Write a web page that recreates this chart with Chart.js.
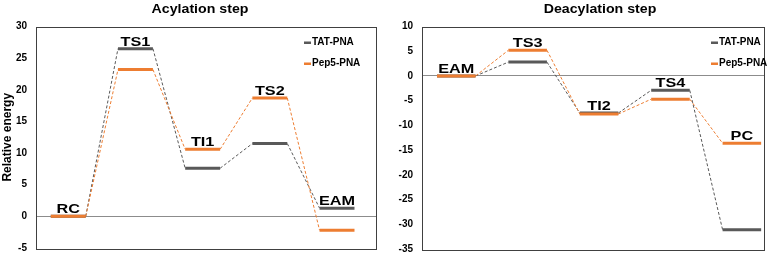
<!DOCTYPE html>
<html>
<head>
<meta charset="utf-8">
<script src="https://cdn.jsdelivr.net/npm/chart.js@4.4.1/dist/chart.umd.min.js"></script>
<style>
  html, body { margin: 0; padding: 0; background: #fff; overflow: hidden; }
  #wrap { position: relative; width: 778px; height: 254px; overflow: hidden; }
  .box { position: absolute; top: 0; }
</style>
</head>
<body>
<div id="wrap">
  <div class="box" style="left:0;width:388px;height:263px"><canvas id="acyl-chart"></canvas></div>
  <div class="box" style="left:388px;width:390px;height:264px"><canvas id="deacyl-chart"></canvas></div>
</div>
<script>
// acylation step
var acylSteps = ['RC', 'TS1', 'TI1', 'TS2', 'EAM'];
var acylTat = [0, 26.5, 7.6, 11.5, 1.3];
var acylPep5 = [0, 23.2, 10.6, 18.7, -2.2];
var acylTicks = [30, 25, 20, 15, 10, 5, 0, -5];

// deacylation step
var deacylSteps = ['EAM', 'TS3', 'TI2', 'TS4', 'PC'];
var deacylTat = [0, 2.8, -7.5, -2.9, -31.1];
var deacylPep5 = [0, 5.2, -7.7, -4.7, -13.6];
var deacylTicks = [10, 5, 0, -5, -10, -15, -20, -25, -30, -35];

var seriesNames = ['TAT-PNA', 'Pep5-PNA'];
var tatColor = '#595959';
var pepColor = '#ed7d31';

var FONT = 'Arial, "Liberation Sans", sans-serif';
Chart.defaults.font.family = FONT;
Chart.defaults.color = '#000';

// turn energies into start/end points of each level line
function toLevels(values, cfg) {
    var pts = [];
    values.forEach(function(v, i) {
        var x0 = i * cfg.step + cfg.offset;
        pts.push({x: x0, y: v});
        pts.push({x: x0 + cfg.width, y: v});
    });
    return pts;
}

function makeDataset(label, values, color, order, cfg) {
    return {
        label: label,
        data: toLevels(values, cfg),
        borderColor: color,
        borderWidth: 3,
        pointRadius: 0,
        fill: false,
        tension: 0,
        order: order,
        segment: {
            // even segment = level line, odd = dashed connector
            borderWidth: function(ctx) { return ctx.p0DataIndex % 2 === 0 ? 3 : 1; },
            borderDash: function(ctx) { return ctx.p0DataIndex % 2 === 0 ? [] : [3, 2]; }
        }
    };
}

// the source picture is a bit wider than tall, so stretch text sideways
function wideText(ctx, text, x, y, sx) {
    ctx.save();
    ctx.translate(x, y);
    ctx.scale(sx, 1);
    ctx.fillText(text, 0, 0);
    ctx.restore();
}

var framePlugin = {
    id: 'frame',
    afterDatasetsDraw: function(chart) {
        var a = chart.chartArea, ctx = chart.ctx;
        ctx.save();
        ctx.strokeStyle = '#404040';
        ctx.lineWidth = 1;
        ctx.strokeRect(Math.round(a.left) + 0.5, Math.round(a.top) + 0.5,
            Math.round(a.right - a.left), Math.round(a.bottom - a.top));
        ctx.restore();
    }
};

var labelPlugin = {
    id: 'stepLabels',
    afterDatasetsDraw: function(chart, args, opts) {
        var ctx = chart.ctx;
        var xs = chart.scales.x, ys = chart.scales.y;
        var cfg = opts.cfg;
        ctx.save();
        ctx.font = 'bold 13px ' + FONT;
        ctx.fillStyle = '#000';
        ctx.textAlign = 'center';
        ctx.textBaseline = 'alphabetic';
        opts.steps.forEach(function(name, i) {
            var top = Math.max(opts.a[i], opts.b[i]);
            var x = xs.getPixelForValue(i * cfg.step + cfg.offset + cfg.width / 2);
            var y = ys.getPixelForValue(top);
            wideText(ctx, name, x, y - 3, 1.25);
        });
        // legend inside plot, top right
        ctx.font = 'bold 10px ' + FONT;
        ctx.textAlign = 'left';
        ctx.textBaseline = 'middle';
        var lx = chart.chartArea.right - opts.legendRight;
        [[seriesNames[0], tatColor, 16], [seriesNames[1], pepColor, 37]].forEach(function(l) {
            var ly = chart.chartArea.top + l[2];
            ctx.fillStyle = l[1];
            ctx.fillRect(lx, ly - 1, 7, 2.5);
            ctx.fillStyle = '#000';
            wideText(ctx, l[0], lx + 8, ly, 1.0);
        });
        ctx.restore();
    }
};

function buildChart(id, title, steps, tat, pep, ticks, cfg) {
    var ctx = document.getElementById(id).getContext('2d');
    return new Chart(ctx, {
        type: 'line',
        data: {
            datasets: [
                makeDataset(seriesNames[0], tat, tatColor, 2, cfg),
                makeDataset(seriesNames[1], pep, pepColor, 1, cfg)
            ]
        },
        options: {
            responsive: true,
            maintainAspectRatio: false,
            animation: false,
            layout: { padding: { top: cfg.padTop, bottom: cfg.padBottom, right: cfg.padRight, left: 0 } },
            plugins: {
                legend: { display: false },
                tooltip: { enabled: false },
                title: { display: false },
                stepLabels: { steps: steps, a: tat, b: pep, cfg: cfg, legendRight: cfg.legendRight }
            },
            scales: {
                x: {
                    type: 'linear',
                    display: false,
                    min: 0,
                    max: cfg.xMax
                },
                y: {
                    min: ticks[ticks.length - 1],
                    max: ticks[0],
                    afterBuildTicks: function(scale) {
                        scale.ticks = ticks.map(function(v) { return {value: v}; });
                    },
                    afterFit: function(scale) { scale.width = cfg.axisWidth; },
                    border: { display: false },
                    grid: {
                        drawTicks: false,
                        color: function(c) { return c.tick && c.tick.value === 0 ? '#8c8c8c' : 'rgba(0,0,0,0)'; },
                        lineWidth: 1
                    },
                    ticks: {
                        padding: cfg.tickPad,
                        font: { size: 10, weight: 'bold' },
                        color: '#000'
                    },
                    title: {
                        display: !!cfg.yTitle,
                        text: cfg.yTitle || '',
                        font: { size: 12, weight: 'bold' },
                        color: '#000',
                        padding: { top: 0, bottom: 0 }
                    }
                }
            }
        },
        plugins: [framePlugin, labelPlugin, {
            id: 'heading',
            afterDraw: function(chart) {
                var c = chart.ctx;
                c.save();
                c.font = 'bold 13px ' + FONT;
                c.fillStyle = '#000';
                c.textAlign = 'center';
                c.textBaseline = 'middle';
                wideText(c, title, cfg.titleX, 9, 1.09);
                c.restore();
            }
        }]
    });
}

buildChart('acyl-chart', 'Acylation step', acylSteps, acylTat, acylPep5, acylTicks, {
    step: 1, offset: 0.22, width: 0.52, xMax: 5.06,
    axisWidth: 36, padTop: 26.5, padBottom: 5.5, padRight: 12, tickPad: 9,
    yTitle: 'Relative energy', titleX: 200, legendRight: 72
});

buildChart('deacyl-chart', 'Deacylation step', deacylSteps, deacylTat, deacylPep5, deacylTicks, {
    step: 1, offset: 0.21, width: 0.54, xMax: 4.79,
    axisWidth: 34, padTop: 26.5, padBottom: 4.5, padRight: 14, tickPad: 9,
    yTitle: '', titleX: 212, legendRight: 53
});
</script>
</body>
</html>
